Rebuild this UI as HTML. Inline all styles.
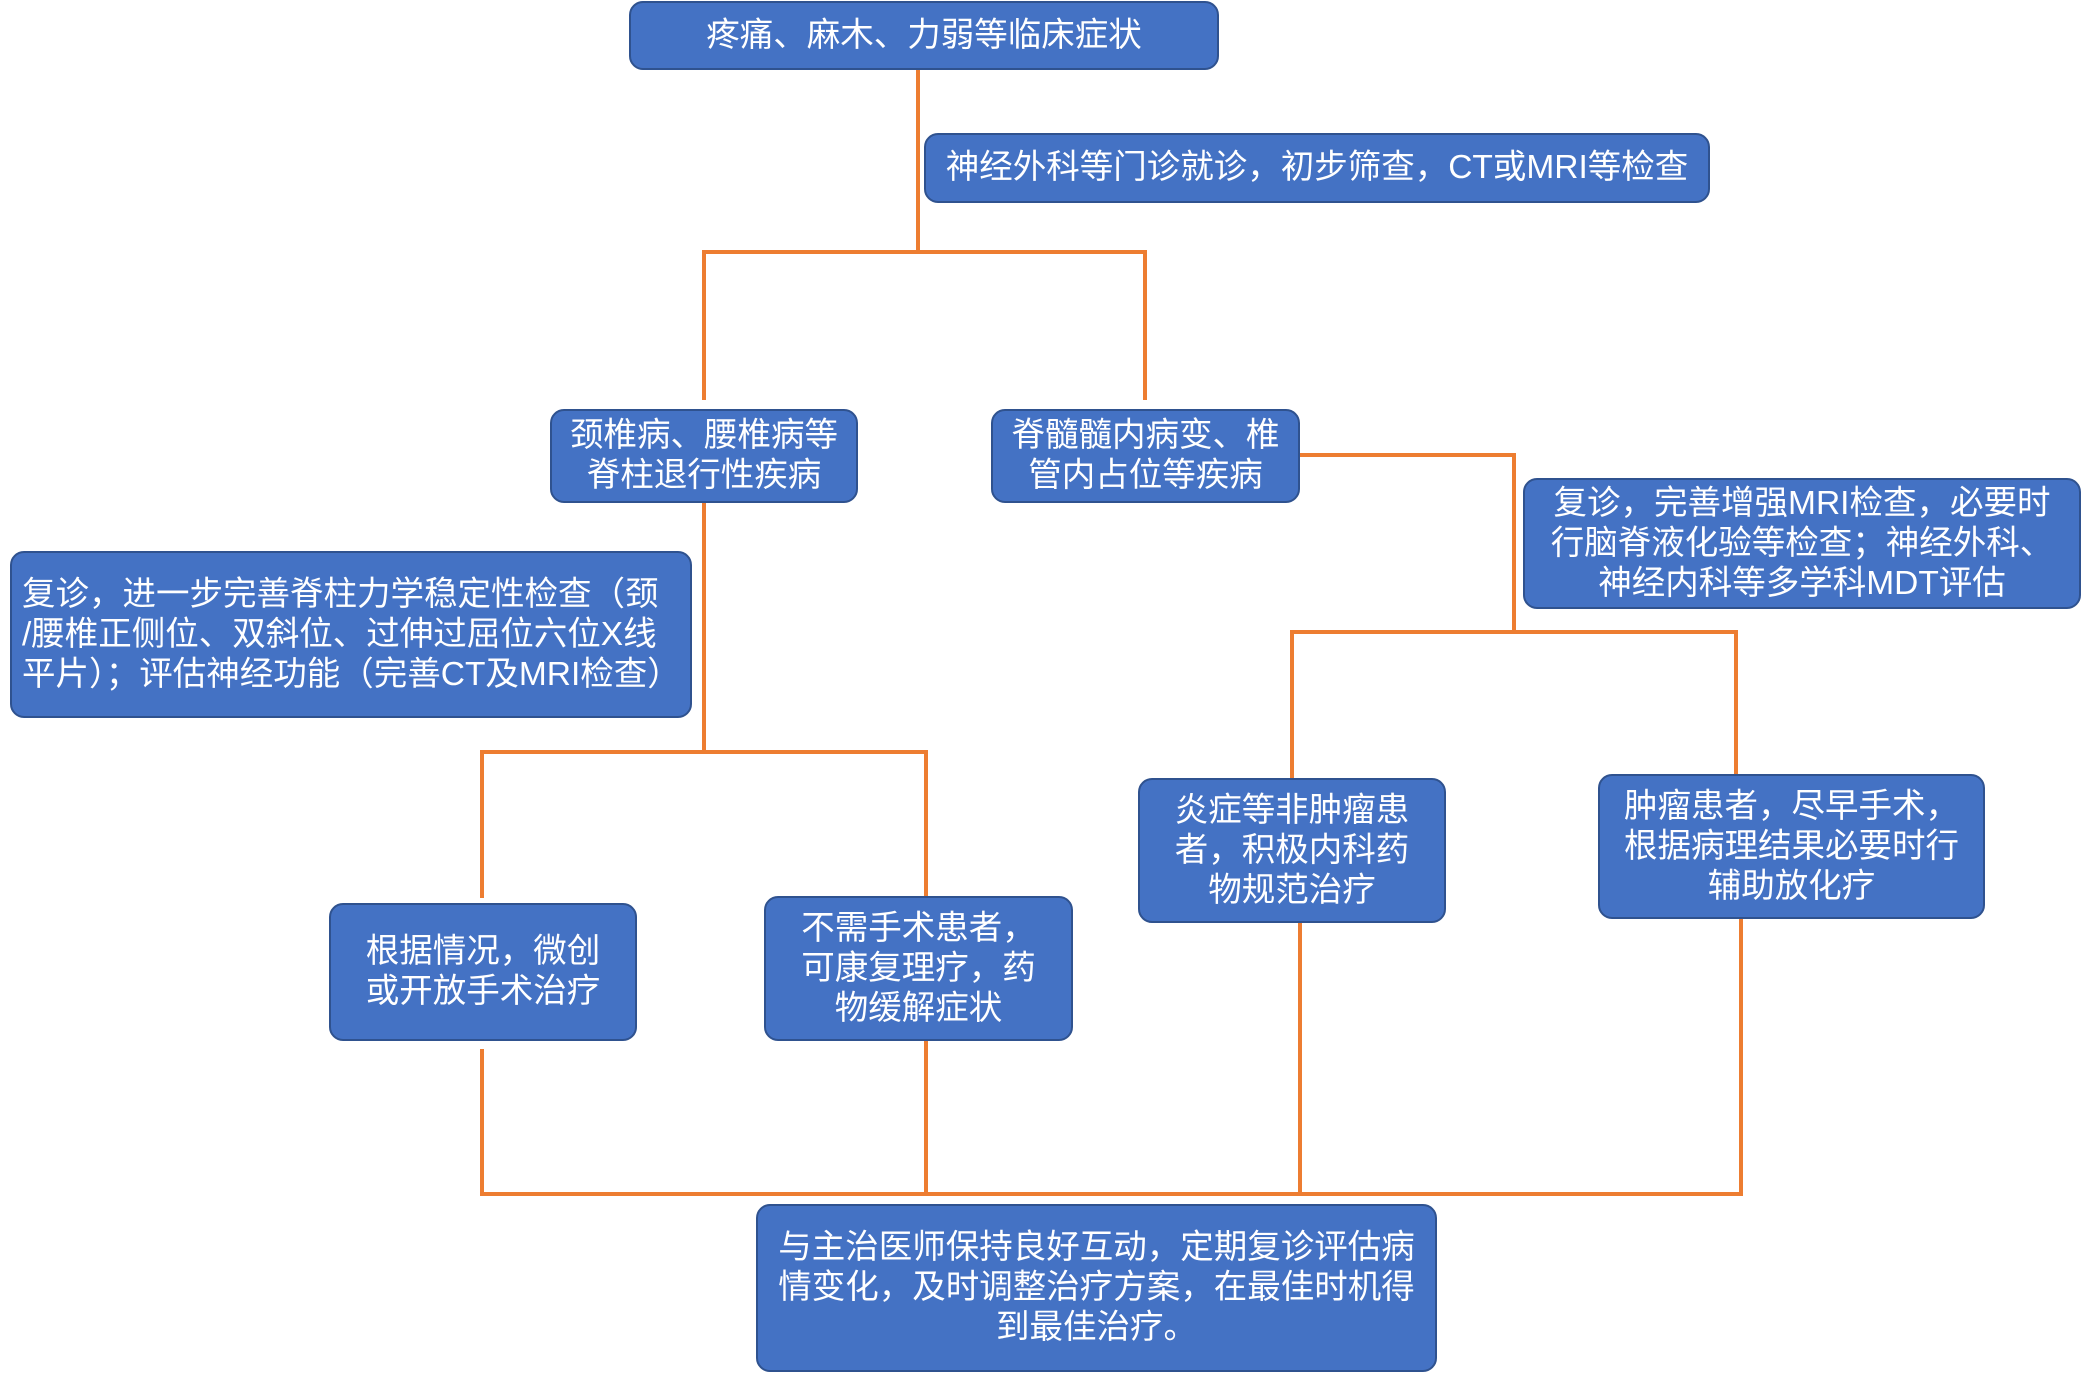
<!DOCTYPE html>
<html><head><meta charset="utf-8"><style>
html,body{margin:0;padding:0;background:#fff;}
body{width:2082px;height:1373px;position:relative;overflow:hidden;font-family:"Liberation Sans","Noto Sans CJK SC",sans-serif;}
.b{position:absolute;box-sizing:border-box;background:#4472C4;border:2px solid #2F528F;border-radius:14px;color:#fff;font-size:33.5px;line-height:40px;display:flex;align-items:center;justify-content:center;text-align:center;white-space:nowrap;}
.l{position:absolute;background:#ED7D31;}
</style></head><body>
<div class="l" style="left:916px;top:70px;width:4px;height:184px"></div>
<div class="l" style="left:702px;top:250px;width:445px;height:4px"></div>
<div class="l" style="left:702px;top:250px;width:4px;height:150px"></div>
<div class="l" style="left:1143px;top:250px;width:4px;height:150px"></div>
<div class="l" style="left:702px;top:500px;width:4px;height:254px"></div>
<div class="l" style="left:480px;top:750px;width:448px;height:4px"></div>
<div class="l" style="left:480px;top:750px;width:4px;height:148px"></div>
<div class="l" style="left:924px;top:750px;width:4px;height:148px"></div>
<div class="l" style="left:1297px;top:453px;width:219px;height:4px"></div>
<div class="l" style="left:1512px;top:453px;width:4px;height:181px"></div>
<div class="l" style="left:1290px;top:630px;width:448px;height:4px"></div>
<div class="l" style="left:1290px;top:630px;width:4px;height:150px"></div>
<div class="l" style="left:1734px;top:630px;width:4px;height:146px"></div>
<div class="l" style="left:480px;top:1049px;width:4px;height:147px"></div>
<div class="l" style="left:924px;top:1040px;width:4px;height:156px"></div>
<div class="l" style="left:1298px;top:920px;width:4px;height:276px"></div>
<div class="l" style="left:1739px;top:916px;width:4px;height:280px"></div>
<div class="l" style="left:480px;top:1192px;width:1263px;height:4px"></div>

<div class="b" style="left:629px;top:1px;width:590px;height:69px">疼痛、麻木、力弱等临床症状</div>
<div class="b" style="left:924px;top:133px;width:786px;height:70px">神经外科等门诊就诊，初步筛查，CT或MRI等检查</div>
<div class="b" style="left:550px;top:409px;width:308px;height:94px">颈椎病、腰椎病等<br>脊柱退行性疾病</div>
<div class="b" style="left:991px;top:409px;width:309px;height:94px">脊髓髓内病变、椎<br>管内占位等疾病</div>
<div class="b" style="left:1523px;top:478px;width:558px;height:131px">复诊，完善增强MRI检查，必要时<br>行脑脊液化验等检查；神经外科、<br>神经内科等多学科MDT评估</div>
<div class="b" style="left:10px;top:551px;width:682px;height:167px;justify-content:flex-start;text-align:left;padding-left:10px">复诊，进一步完善脊柱力学稳定性检查（颈<br>/腰椎正侧位、双斜位、过伸过屈位六位X线<br>平片）；评估神经功能（完善CT及MRI检查）</div>
<div class="b" style="left:1138px;top:778px;width:308px;height:145px">炎症等非肿瘤患<br>者，积极内科药<br>物规范治疗</div>
<div class="b" style="left:1598px;top:774px;width:387px;height:145px">肿瘤患者，尽早手术，<br>根据病理结果必要时行<br>辅助放化疗</div>
<div class="b" style="left:329px;top:903px;width:308px;height:138px">根据情况，微创<br>或开放手术治疗</div>
<div class="b" style="left:764px;top:896px;width:309px;height:145px">不需手术患者，<br>可康复理疗，药<br>物缓解症状</div>
<div class="b" style="left:756px;top:1204px;width:681px;height:168px">与主治医师保持良好互动，定期复诊评估病<br>情变化，及时调整治疗方案，在最佳时机得<br>到最佳治疗。</div>
</body></html>
